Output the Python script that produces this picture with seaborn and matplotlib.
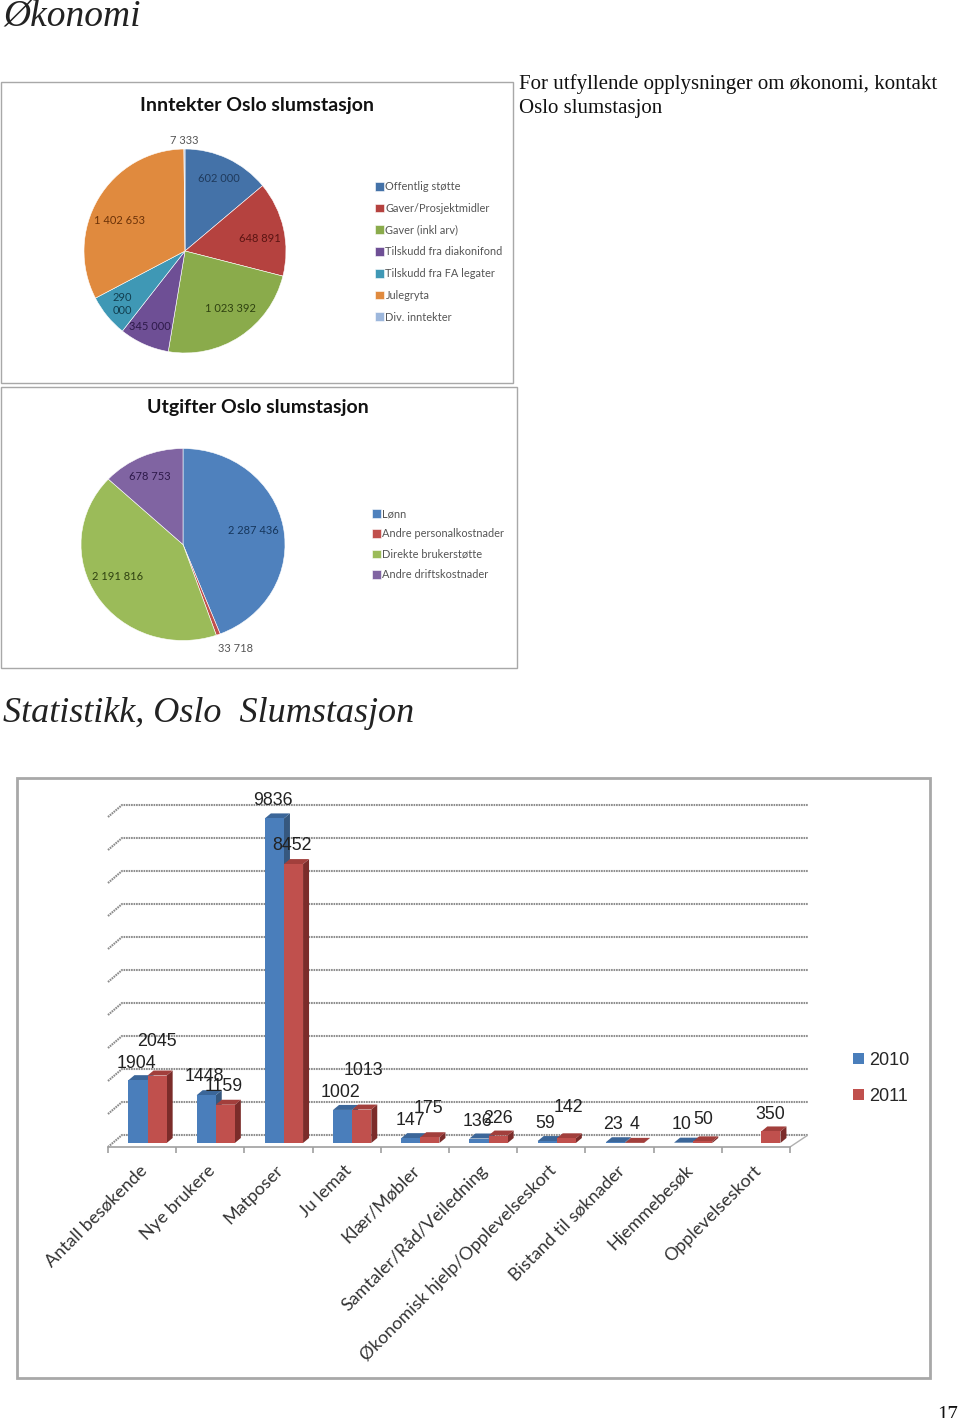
import numpy as np
import pandas as pd
import matplotlib
matplotlib.use('Agg')
import matplotlib.pyplot as plt
from matplotlib.patches import Rectangle
from matplotlib.transforms import ScaledTranslation
import seaborn as sns

sns.set_style("white")
plt.rcParams['font.family'] = ['Lato', 'DejaVu Sans']

# ---- data ----
income_labels = ['Offentlig støtte', 'Gaver/Prosjektmidler', 'Gaver (inkl arv)',
                 'Tilskudd fra diakonifond', 'Tilskudd fra FA legater', 'Julegryta', 'Div. inntekter']
income_values = [602000, 648891, 1023392, 345000, 290000, 1402653, 7333]
income_text = ['602 000', '648 891', '1 023 392', '345 000', '290\n000', '1 402 653', '7 333']

cost_labels = ['Lønn', 'Andre personalkostnader', 'Direkte brukerstøtte', 'Andre driftskostnader']
cost_values = [2287436, 33718, 2191816, 678753]
cost_text = ['2 287 436', '33 718', '2 191 816', '678 753']

categories = ['Antall besøkende', 'Nye brukere', 'Matposer', 'Ju lemat', 'Klær/Møbler',
              'Samtaler/Råd/Veiledning', 'Økonomisk hjelp/Opplevelseskort',
              'Bistand til søknader', 'Hjemmebesøk', 'Opplevelseskort']
values_2010 = [1904, 1448, 9836, 1002, 147, 136, 59, 23, 10, np.nan]
values_2011 = [2045, 1159, 8452, 1013, 175, 226, 142, 4, 50, 350]

# ---- styling ----
income_colors = ['#4472a8', '#b5423f', '#8aab4b', '#6e4f95', '#3f98b5', '#e08a3e', '#9db7dc']
income_text_colors = ['#1f3a5c', '#5a1412', '#2f4210', '#2e1a4a', '#123f50', '#6b3208', '#555555']
income_text_xy = [(219, 179), (260, 238), (230, 308), (150, 327), (122, 304), (120, 221), (184, 140)]

cost_colors = ['#4f81bd', '#c0504d', '#9bbb59', '#8064a2']
cost_text_colors = ['#16365c', '#555555', '#2f4210', '#2e1a4a']
cost_text_xy = [(253, 531), (236, 648), (118, 577), (150, 476)]

front = {'2010': '#4a7ebb', '2011': '#c0504d'}
top_face = {'2010': '#3b6699', '2011': '#a23f3c'}
side_face = {'2010': '#36587f', '2011': '#7b2c2a'}

# label offsets from bar top, pixels
dx_2010 = [-2, -2, -2, -2, 0, -2, -2, -2, -2, 0]
dy_2010 = [17, 19, 18, 17, 18, 17, 18, 18, 18, 0]
dx_2011 = [0, -2, -2, 2, -1, 0, 2, 0, 1, -1]
dy_2011 = [34, 18, 19, 39, 29, 17, 31, 18, 22, 17]

W, H = 960, 1418
fig = plt.figure(figsize=(W / 100, H / 100), dpi=100, facecolor='white')


def px_axes(left, top, right, bottom):
    return fig.add_axes([left / W, 1 - bottom / H, (right - left) / W, (bottom - top) / H])


# overlay in page pixels for frames and running text
page = px_axes(0, 0, W, H)
page.set_xlim(0, W)
page.set_ylim(H, 0)
page.axis('off')
page.set_zorder(10)
for (x0, y0, x1, y1) in [(1, 82, 513, 383), (1, 387, 517, 668), (17, 778, 930, 1378)]:
    lw = 2 if y0 == 778 else 1.0
    page.add_patch(Rectangle((x0, y0), x1 - x0, y1 - y0, fill=False, ec='#a8a8a8', lw=lw))

serif = 'Liberation Serif'
page.text(3, 17, 'Økonomi', family=serif, style='italic', fontsize=27, va='center', color='#222222')
page.text(3, 714, 'Statistikk, Oslo  Slumstasjon', family=serif, style='italic', fontsize=26,
          va='center', color='#222222')
page.text(519, 84, 'For utfyllende opplysninger om økonomi, kontakt', family=serif, fontsize=15,
          va='center', color='#111111')
page.text(519, 108, 'Oslo slumstasjon', family=serif, fontsize=15, va='center', color='#111111')
page.text(948, 1416, '17', family=serif, fontsize=15, ha='center', va='center', color='#111111')

page.text(257, 105, 'Inntekter Oslo slumstasjon', fontsize=14, weight='bold', ha='center', va='center', color='#111111')
page.text(258, 408, 'Utgifter Oslo slumstasjon', fontsize=14, weight='bold', ha='center', va='center', color='#111111')


def draw_pie(cx, cy, rx, ry, values, colors, labels, texts, text_xy, text_colors, leg_x, leg_y, spacing):
    ax = px_axes(cx - rx, cy - ry, cx + rx, cy + ry)
    wedges, _ = ax.pie(values, colors=colors, startangle=90, counterclock=False, radius=1,
                       wedgeprops={'linewidth': 0.4, 'edgecolor': 'white'})
    ax.set_aspect('auto')
    ax.set_xlim(-1, 1)
    ax.set_ylim(-1, 1)
    for t, (x, y), c in zip(texts, text_xy, text_colors):
        page.text(x, y, t, fontsize=8, ha='center', va='center', color=c, linespacing=1.15)
    leg = ax.legend(wedges, labels, loc='upper left', bbox_to_anchor=(leg_x / W, 1 - leg_y / H),
                    bbox_transform=fig.transFigure, frameon=False, fontsize=7.9, handlelength=0.85,
                    handleheight=0.85, handletextpad=0.1, labelspacing=spacing, borderpad=0, borderaxespad=0)
    for t in leg.get_texts():
        t.set_color('#555555')


draw_pie(185, 251, 101, 102, income_values, income_colors, income_labels, income_text, income_text_xy,
         income_text_colors, 375, 181, 0.98)
draw_pie(183, 544.5, 102, 96, cost_values, cost_colors, cost_labels, cost_text, cost_text_xy,
         cost_text_colors, 372, 508, 0.86)

# ---- 3D-looking bar chart ----
df = pd.DataFrame({
    'kategori': categories * 2,
    'aar': ['2010'] * 10 + ['2011'] * 10,
    'verdi': values_2010 + values_2011,
})

PX_CAT = 68.2    # pixels per category
PX_VAL = 0.033   # pixels per unit
x_lo = -0.58
ax = px_axes(108, 790, 808, 1147)
ax.patch.set_alpha(0)
sns.barplot(data=df, x='kategori', y='verdi', hue='aar', hue_order=['2010', '2011'], palette=front,
            order=categories, width=0.56, gap=0, saturation=1, ax=ax, legend=False, linewidth=0)
ax.set_xlim(x_lo, x_lo + 700 / PX_CAT)
ax.set_ylim(-4 / PX_VAL, 353 / PX_VAL)

dx = 1 / PX_CAT
dy = 1 / PX_VAL

# back wall lines with the small stubs on the left
for level in range(0, 11000, 1000):
    ax.plot([x_lo, x_lo + 14 * dx, x_lo + 700 * dx], [level - 4 * dy, level + 8 * dy, level + 8 * dy],
            color='#8c8c8c', lw=1.5, ls=(0, (0.8, 0.4)), zorder=1, clip_on=False)
ax.plot([x_lo + 682 * dx, x_lo + 700 * dx], [-4 * dy, 8 * dy], color='#b0b0b0', lw=1, zorder=1)

depth_x, depth_y = 6 * dx, 5 * dy
for k, (container, yr) in enumerate(zip(ax.containers, ['2010', '2011'])):
    z = 3 + 2 * k
    for bar in container:
        h = bar.get_height()
        if np.isnan(h):
            continue
        x0, w = bar.get_x(), bar.get_width()
        bar.set_zorder(z + 1)
        ax.fill([x0 + w, x0 + w + depth_x, x0 + w + depth_x, x0 + w],
                [0, depth_y, h + depth_y, h], color=side_face[yr], lw=0, zorder=z)
        ax.fill([x0, x0 + depth_x, x0 + w + depth_x, x0 + w],
                [h, h + depth_y, h + depth_y, h], color=top_face[yr], lw=0, zorder=z)

for container, vals, ox, oy in [(ax.containers[0], values_2010, dx_2010, dy_2010),
                                (ax.containers[1], values_2011, dx_2011, dy_2011)]:
    for bar, v, a, b in zip(container, vals, ox, oy):
        if np.isnan(v):
            continue
        ax.annotate(str(int(v)), (bar.get_x() + bar.get_width() / 2, v), xytext=(a, b),
                    textcoords='offset pixels', ha='center', va='center', fontsize=12.8,
                    family='Liberation Sans', color='#222222', zorder=20, annotation_clip=False)

sns.despine(ax=ax, left=True, top=True, right=True)
ax.spines['bottom'].set_bounds(x_lo, x_lo + 682 * dx)
ax.spines['bottom'].set_color('#a0a0a0')
ax.spines['bottom'].set_linewidth(1.2)
ax.set_xlabel('')
ax.set_ylabel('')
ax.set_yticks([])
ax.set_xticks(np.arange(len(categories)))
ax.set_xticks(np.arange(len(categories) + 1) + x_lo, minor=True)
ax.tick_params(axis='x', which='major', length=0, pad=15)
ax.tick_params(axis='x', which='minor', length=4.5, width=1.2, color='#a0a0a0', bottom=True)
ax.set_xticklabels(categories, rotation=45, ha='right', va='center', rotation_mode='anchor',
                   fontsize=12.9, color='#333333')
shift = ScaledTranslation(-3 / 100, 0, fig.dpi_scale_trans)
for lab in ax.get_xticklabels():
    lab.set_transform(lab.get_transform() + shift)

# legend built from the bars
handles = [ax.containers[0][0], ax.containers[1][0]]
leg = ax.legend(handles, ['2010', '2011'], loc='upper left', bbox_to_anchor=(853 / W, 1 - 1052 / H),
                bbox_transform=fig.transFigure, frameon=False, handlelength=0.6,
                handleheight=0.6, handletextpad=0.3, labelspacing=1.05, borderpad=0, borderaxespad=0,
                prop={'family': 'Liberation Sans', 'size': 13})

fig.savefig('out.png', dpi=100)
